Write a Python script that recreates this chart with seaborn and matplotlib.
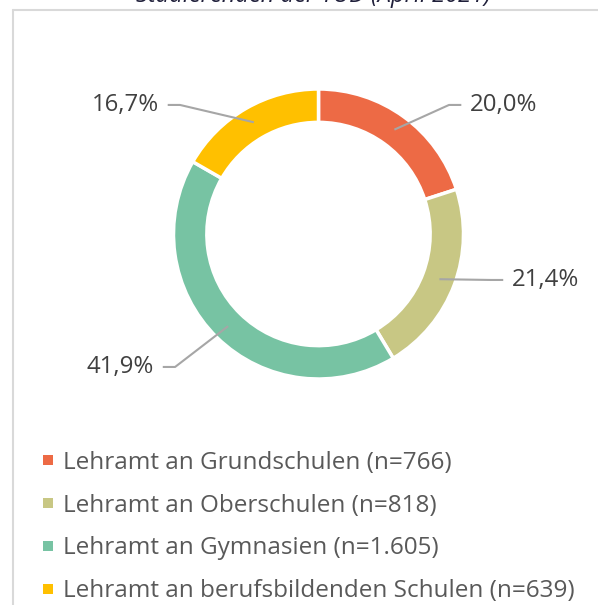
import matplotlib.pyplot as plt
import matplotlib.lines as mlines
import numpy as np
import seaborn as sns

# data
categories = ["Lehramt an Grundschulen", "Lehramt an Oberschulen",
              "Lehramt an Gymnasien", "Lehramt an berufsbildenden Schulen"]
counts = [766, 818, 1605, 639]
count_labels = ["766", "818", "1.605", "639"]
pct_labels = ["20,0%", "21,4%", "41,9%", "16,7%"]
colors = ["#ED6A45", "#C8C784", "#77C3A3", "#FFC000"]

sns.set_theme(style="white")
plt.rcParams['font.family'] = ['Open Sans', 'DejaVu Sans']

W, H, DPI = 598, 605, 100
fig = plt.figure(figsize=(W / DPI, H / DPI), dpi=DPI)
fig.patch.set_facecolor("white")

# axes over the whole figure, 1 data unit = pie radius in px
R_PX = 145
CX, CY = 318.5, 234
ax = fig.add_axes([0, 0, 1, 1])
ax.axis("off")

wedges, _ = ax.pie(counts, colors=colors, startangle=90, counterclock=False,
                   radius=1, wedgeprops=dict(width=0.23, edgecolor="white", linewidth=2.5))
ax.set_xlim(-CX / R_PX, (W - CX) / R_PX)
ax.set_ylim(-(H - CY) / R_PX, CY / R_PX)
ax.set_aspect("auto")

# percentage labels with leader lines
label_pos = [(1.045, 0.89, "left"), (1.334, -0.317, "left"),
             (-1.134, -0.917, "right"), (-1.10, 0.89, "right")]
gap, elbow = 0.06, 0.085
for w, txt, (tx, ty, ha) in zip(wedges, pct_labels, label_pos):
    ang = np.deg2rad((w.theta1 + w.theta2) / 2)
    ax_, ay_ = 0.89 * np.cos(ang), 0.89 * np.sin(ang)
    s = 1 if ha == "left" else -1
    x0 = tx - s * gap
    x1 = x0 - s * elbow
    ax.plot([x0, x1, ax_], [ty, ty, ay_], color="#A6A6A6", lw=1.5,
            solid_capstyle="butt", zorder=3)
    ax.text(tx, ty, txt, ha=ha, va="center", fontsize=17.3, color="#404040")

# legend with small square markers
handles = [mlines.Line2D([], [], marker="s", ls="", markersize=6.5,
                         markerfacecolor=w.get_facecolor(), markeredgewidth=0)
           for w in wedges]
leg_labels = [f"{c} (n={n})" for c, n in zip(categories, count_labels)]
ax.legend(handles, leg_labels, loc="upper left", bbox_to_anchor=(42 / W, 1 - 451 / H),
          bbox_transform=fig.transFigure, frameon=False, fontsize=17.5,
          labelcolor="#595959", handlelength=0.5, handletextpad=0.35,
          labelspacing=0.77, borderpad=0, borderaxespad=0)

# frame of the chart area
fig.add_artist(mlines.Line2D([13 / W, 13 / W], [0, 1 - 10 / H], transform=fig.transFigure,
                             color="#D9D9D9", lw=1.5))
fig.add_artist(mlines.Line2D([13 / W, 1], [1 - 10 / H, 1 - 10 / H], transform=fig.transFigure,
                             color="#D9D9D9", lw=1.5))

# title (cut off at the top, as in the reference)
fig.text(313 / W, 1 - 2 / H, "Studierenden der TUD (April 2021)", ha="center",
         va="baseline", fontsize=17, style="italic", color="#1F1F3A")

fig.savefig("out.png", dpi=DPI)
